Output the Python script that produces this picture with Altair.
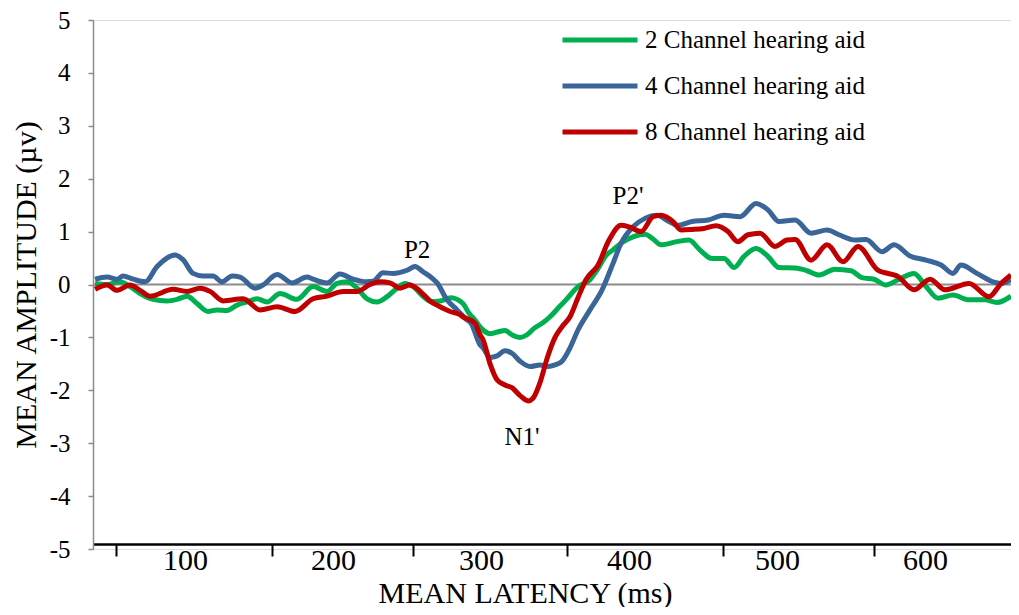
import altair as alt
import pandas as pd

SERIES = ["2 Channel hearing aid", "4 Channel hearing aid", "8 Channel hearing aid"]
COLORS = ["#00B050", "#3A6599", "#C00000"]

# latency (ms) / amplitude (µv)
green_ms = [39.2, 47.3, 56.1, 62.8, 69.6, 78.4, 87.8, 94.6, 101.4, 108.1, 115.5, 121.6, 128.4, 135.1,
            141.9, 148.6, 155.4, 164.2, 175.7, 186.5, 195.9, 202.7, 209.5, 216.2, 223.0, 229.7, 236.5,
            243.2, 248.6, 254.1, 261.5, 266.0, 272.3, 279.7, 287.8, 292.0, 295.9, 299.3, 301.4, 306.1,
            310.8, 316.2, 320.9, 326.4, 331.1, 335.8, 342.0, 346.6, 352.0, 357.4, 365.5, 373.6, 379.0,
            384.5, 389.0, 394.6, 402.7, 410.8, 416.2, 421.6, 432.4, 440.5, 448.0, 456.1, 464.2, 471.0,
            477.7, 485.8, 493.9, 501.4, 512.2, 520.3, 528.4, 539.2, 550.0, 557.4, 565.5, 573.6, 581.8,
            592.6, 600.7, 608.8, 618.9, 629.7, 640.5, 648.6, 658.1]
green_amp = [0.02, 0.00, 0.05, -0.04, -0.17, -0.28, -0.31, -0.28, -0.22, -0.36, -0.51, -0.48, -0.49, -0.39,
             -0.33, -0.27, -0.33, -0.17, -0.28, -0.04, -0.13, 0.02, 0.05, -0.07, -0.27, -0.33, -0.23,
             -0.07, 0.02, -0.04, -0.24, -0.32, -0.31, -0.25, -0.36, -0.55, -0.67, -0.80, -0.86, -0.93,
             -0.90, -0.87, -0.95, -1.00, -0.95, -0.83, -0.72, -0.61, -0.45, -0.29, -0.04, 0.09, 0.30,
             0.55, 0.65, 0.78, 0.90, 0.95, 0.86, 0.75, 0.81, 0.84, 0.65, 0.49, 0.49, 0.32,
             0.53, 0.68, 0.53, 0.32, 0.31, 0.26, 0.18, 0.29, 0.26, 0.13, 0.10, -0.01, 0.09,
             0.21, -0.04, -0.26, -0.20, -0.29, -0.29, -0.34, -0.22]

blue_ms = [39.2, 47.3, 54.1, 58.1, 64.9, 73.0, 81.1, 93.2, 98.6, 105.4, 112.2, 118.9, 125.0, 131.8, 137.2,
           147.3, 152.7, 162.2, 172.3, 182.4, 186.5, 195.9, 204.7, 213.5, 223.0, 227.0, 233.8, 240.5,
           250.0, 255.4, 260.8, 266.9, 270.3, 277.0, 283.8, 290.5, 293.2, 299.3, 301.4, 306.1, 310.8,
           316.2, 320.9, 326.4, 333.1, 339.9, 345.3, 350.0, 354.7, 360.1, 365.5, 373.6, 381.8, 389.2,
           394.6, 402.7, 410.8, 418.9, 427.0, 432.4, 442.6, 453.4, 464.2, 475.0, 485.8, 493.9, 501.4,
           512.2, 523.0, 533.8, 541.9, 552.7, 560.1, 571.0, 579.1, 589.9, 600.7, 610.8, 618.9, 624.3,
           635.1, 645.9, 651.4, 658.1]
blue_amp = [0.10, 0.14, 0.10, 0.16, 0.10, 0.05, 0.34, 0.56, 0.47, 0.21, 0.16, 0.16, 0.05, 0.16, 0.14,
            -0.07, -0.01, 0.19, 0.03, 0.14, 0.10, 0.03, 0.20, 0.10, 0.05, 0.06, 0.22, 0.21,
            0.27, 0.34, 0.24, 0.12, 0.03, -0.29, -0.48, -0.67, -0.73, -1.14, -1.20, -1.38, -1.35,
            -1.25, -1.30, -1.45, -1.55, -1.52, -1.55, -1.52, -1.45, -1.20, -0.86, -0.48, -0.10, 0.40,
            0.78, 1.09, 1.25, 1.31, 1.19, 1.12, 1.19, 1.22, 1.31, 1.28, 1.53, 1.41, 1.19,
            1.22, 0.97, 1.03, 0.94, 0.84, 0.85, 0.62, 0.75, 0.54, 0.46, 0.37, 0.21, 0.37,
            0.21, 0.05, 0.02, 0.09]

red_ms = [39.2, 47.3, 54.1, 62.8, 69.6, 76.4, 91.9, 101.4, 110.1, 116.9, 125.7, 139.2, 150.7, 162.2,
          174.3, 186.5, 195.9, 206.8, 216.2, 225.0, 231.8, 238.5, 245.3, 252.0, 254.1, 260.8, 266.0,
          270.3, 274.3, 279.1, 285.1, 287.8, 295.9, 299.3, 301.4, 306.1, 310.8, 316.2, 320.9, 326.4,
          331.8, 335.1, 339.9, 344.6, 350.0, 354.7, 360.1, 365.5, 370.9, 379.1, 386.5, 394.6, 400.0,
          408.1, 416.2, 421.6, 429.7, 435.1, 442.6, 450.7, 458.8, 466.9, 473.6, 480.4, 488.5, 498.6,
          506.8, 512.2, 523.0, 533.8, 544.6, 554.7, 568.2, 581.8, 592.6, 603.4, 613.5, 629.7, 643.2,
          651.4, 658.1]
red_amp = [-0.09, -0.01, -0.11, -0.01, -0.11, -0.22, -0.09, -0.13, -0.07, -0.13, -0.31, -0.27, -0.48, -0.42,
           -0.51, -0.27, -0.22, -0.13, -0.13, 0.00, 0.05, 0.03, -0.07, -0.01, -0.03, -0.18, -0.32,
           -0.39, -0.45, -0.51, -0.56, -0.61, -0.73, -0.95, -1.05, -1.50, -1.80, -1.90, -1.95, -2.10,
           -2.20, -2.15, -1.85, -1.40, -1.00, -0.80, -0.61, -0.25, 0.09, 0.37, 0.84, 1.12, 1.09,
           1.00, 1.28, 1.31, 1.19, 1.03, 1.04, 1.06, 1.11, 1.00, 0.81, 0.94, 0.97, 0.72,
           0.84, 0.85, 0.46, 0.75, 0.43, 0.72, 0.27, 0.15, -0.10, 0.10, -0.10, 0.02, -0.23,
           0.02, 0.18]

ann_text = ["P2", "P2'", "N1'"]
ann_ms = [256.8, 399.3, 327.7]
ann_amp = [0.65, 1.67, -2.88]

y_ticks = [-5, -4, -3, -2, -1, 0, 1, 2, 3, 4, 5]
x_tick_marks = [53.4, 158.8, 254.1, 358.1, 463.5, 565.5]
x_labels = [100, 200, 300, 400, 500, 600]

rows = []
for name, xs, ys in zip(SERIES, [green_ms, blue_ms, red_ms], [green_amp, blue_amp, red_amp]):
    for i, (a, b) in enumerate(zip(xs, ys)):
        rows.append({"series": name, "ms": a, "amp": b, "order": i})
df = pd.DataFrame(rows)
ann = pd.DataFrame({"ms": ann_ms, "amp": ann_amp, "text": ann_text})
zero = pd.DataFrame({"amp": [0]})

FONT = "Liberation Serif"
xscale = alt.Scale(domain=[37.8, 658.1], nice=False, zero=False)
yscale = alt.Scale(domain=[-5, 5], nice=False, zero=False)

xaxis = alt.Axis(
    values=x_tick_marks + x_labels,
    labelExpr="datum.value % 100 === 0 ? datum.label : ''",
    tickOpacity={"condition": {"test": "datum.value % 100 === 0", "value": 0}, "value": 1},
    grid=False, offset=-5,
    domainColor="black", domainWidth=2.5,
    tickColor="black", tickWidth=2, tickSize=12,
    labelFontSize=30, labelPadding=-11, labelColor="black", labelFont=FONT,
    labelFlush=False, labelOverlap=False,
    title="MEAN LATENCY (ms)", titleFontSize=30, titleFont=FONT, titleFontWeight="normal",
    titleColor="black", titleX=432, titleY=58, titleBaseline="alphabetic",
)
yaxis = alt.Axis(
    values=y_ticks,
    labelExpr="datum.value < 0 ? '-' + abs(datum.value) : '' + datum.value",
    grid=False,
    domainColor="#8c8c8c", domainWidth=1.5,
    tickColor="#8c8c8c", tickWidth=1.5, tickSize=5,
    labelFontSize=25, labelPadding=18, labelColor="black", labelFont=FONT,
    title="MEAN AMPLITUDE (µv)", titleFontSize=30, titleFont=FONT, titleFontWeight="normal",
    titleColor="black", titleX=-58, titleY=264.5, titleBaseline="alphabetic", titleAngle=270,
)

lines = alt.Chart(df).mark_line(strokeWidth=5, interpolate="monotone").encode(
    x=alt.X("ms:Q", scale=xscale, axis=xaxis),
    y=alt.Y("amp:Q", scale=yscale, axis=yaxis),
    color=alt.Color(
        "series:N",
        scale=alt.Scale(domain=SERIES, range=COLORS),
        legend=alt.Legend(
            title=None, orient="none", legendX=467, legendY=7,
            symbolType="stroke", symbolSize=5625, symbolStrokeWidth=5,
            clipHeight=26, rowPadding=20, labelOffset=5, padding=0,
            labelFontSize=25, labelFont=FONT, labelColor="black", labelLimit=400,
        ),
    ),
    order="order:Q",
)

zero_rule = alt.Chart(zero).mark_rule(color="#8c8c8c", strokeWidth=2).encode(
    y=alt.Y("amp:Q", scale=yscale)
)

labels = alt.Chart(ann).mark_text(font=FONT, fontSize=25, color="black").encode(
    x=alt.X("ms:Q", scale=xscale),
    y=alt.Y("amp:Q", scale=yscale),
    text="text:N",
)

chart = alt.layer(zero_rule, lines, labels).properties(
    width=918, height=529,
    autosize=alt.AutoSizeParams(type="none"),
    padding={"left": 85, "top": 12, "right": 0, "bottom": 58},
).configure_view(stroke=None).configure(font=FONT)

chart.save("out.html", embed_options={"renderer": "svg", "actions": False})
